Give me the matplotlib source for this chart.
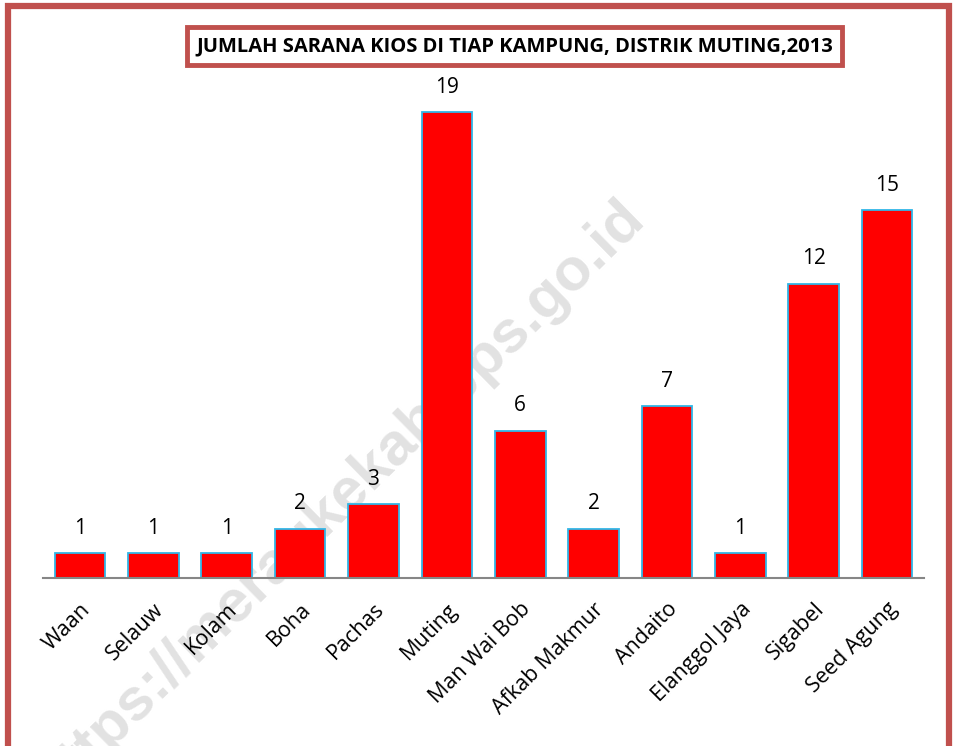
import matplotlib
matplotlib.use("Agg")
import matplotlib.pyplot as plt
from matplotlib.patches import Rectangle

# data
kampung = ["Waan", "Selauw", "Kolam", "Boha", "Pachas", "Muting", "Man Wai Bob",
           "Afkab Makmur", "Andaito", "Elanggol Jaya", "Sigabel", "Seed Agung"]
kios = [1, 1, 1, 2, 3, 19, 6, 2, 7, 1, 12, 15]
judul = "JUMLAH SARANA KIOS DI TIAP KAMPUNG, DISTRIK MUTING,2013"

border = "#C0504D"
plt.rcParams['font.family'] = ['Open Sans', 'DejaVu Sans']

fig = plt.figure(figsize=(9.55, 7.46), dpi=100)

# outer frame
fig.patches.append(Rectangle((0.008, -0.05), 0.986, 1.042, transform=fig.transFigure,
                             fill=False, edgecolor=border, linewidth=4.5))

# watermark (behind the chart)
fig.text(0.356, 0.33, "https://meraukekab.bps.go.id", rotation=44.5, fontsize=43,
         fontweight='bold', color='#e2e2e2', ha='center', va='center',
         family='Liberation Sans', zorder=0.5)

ax = fig.add_axes([0.0453, 0.2252, 0.922, 0.657])
ax.set_zorder(1)
ax.patch.set_alpha(0)
x = range(len(kampung))
bars = ax.bar(x, kios, width=0.69, color='#FF0000', edgecolor='#31B6E7', linewidth=1.3)
for b, v in zip(bars, kios):
    ax.text(b.get_x() + b.get_width() / 2, v + 0.6, str(v), ha='center', va='bottom', fontsize=15)

ax.set_xlim(-0.5, len(kampung) - 0.5)
ax.set_ylim(0, 20)
ax.set_yticks([])
ax.set_xticks(list(x))
ax.set_xticklabels(kampung, rotation=45, ha='right', rotation_mode='anchor', fontsize=15.5)
ax.tick_params(axis='x', length=0, pad=15)
for s in ['top', 'right', 'left']:
    ax.spines[s].set_visible(False)
ax.spines['bottom'].set_color('#868686')
ax.spines['bottom'].set_linewidth(1.5)

# title box
fig.text(0.539, 0.938, judul, ha='center', va='center', fontsize=14.5, fontweight='bold',
         zorder=3,
         bbox=dict(boxstyle='square,pad=0.45', facecolor='white', edgecolor=border, linewidth=3.5))

fig.savefig("out.png", dpi=100)
